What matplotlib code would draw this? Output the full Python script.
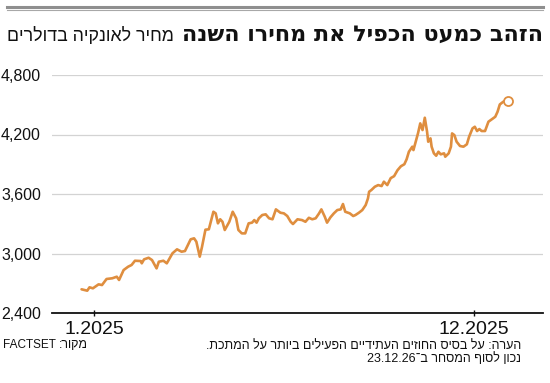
import re
import datetime as dt
import matplotlib
matplotlib.use("Agg")
import matplotlib.pyplot as plt
from matplotlib.lines import Line2D

# ---------------- data ----------------
# day offsets from 1 Jan 2025
days = [-11, -6, -4, -1, 4, 7, 11, 16, 20, 22, 26, 30, 33, 36, 41, 42, 44, 48, 51,
        55, 57, 61, 64, 69, 73, 77, 80, 85, 88, 90, 93, 95, 98, 101, 105, 107, 109,
        111, 113, 115, 119, 122, 125, 127, 130, 133, 136, 139, 141, 143, 145, 148,
        151, 154, 157, 160, 164, 167, 170, 173, 175, 179, 183, 186, 189, 192, 195,
        198, 200, 203, 205, 208, 211, 214, 217, 219, 221, 225, 228, 230, 233, 236,
        239, 241, 242, 244, 247, 250, 253, 255, 258, 261, 264, 267, 270, 273, 275,
        277, 280, 281, 283, 285, 287, 289, 291, 293, 294, 296, 297, 299, 301, 303,
        305, 308, 309, 312, 314, 315, 317, 319, 322, 325, 328, 330, 333, 335, 337,
        339, 341, 344, 347, 349, 351, 353, 355, 357, 360, 362, 364]
prices = [2639, 2625, 2659, 2649, 2689, 2682, 2743, 2750, 2766, 2733, 2833, 2867,
          2884, 2927, 2924, 2901, 2941, 2957, 2934, 2850, 2917, 2927, 2901, 3002,
          3042, 3018, 3025, 3143, 3153, 3119, 2968, 3068, 3240, 3244, 3421, 3405,
          3304, 3345, 3320, 3237, 3320, 3421, 3355, 3237, 3203, 3203, 3304, 3311,
          3337, 3311, 3355, 3388, 3395, 3355, 3345, 3445, 3411, 3405, 3378, 3320,
          3297, 3345, 3337, 3320, 3360, 3345, 3355, 3405, 3445, 3371, 3311, 3365,
          3405, 3438, 3445, 3499, 3421, 3405, 3378, 3388, 3411, 3438, 3489, 3556,
          3623, 3640, 3673, 3690, 3680, 3724, 3690, 3760, 3780, 3840, 3880, 3900,
          3950, 4026, 4077, 4043, 4127, 4211, 4312, 4245, 4369, 4228, 4127, 4161,
          4077, 4010, 3986, 4026, 4000, 4010, 3976, 4010, 4077, 4211, 4194, 4127,
          4084, 4077, 4101, 4178, 4262, 4278, 4235, 4255, 4235, 4235, 4329, 4345,
          4362, 4379, 4429, 4503, 4530, 4537, 4537]

yticks = [2400, 3000, 3600, 4200, 4800]
ytick_labels = ["2,400", "3,000", "3,600", "4,200", "4,800"]
xtick_dates = ["2025-01-01", "2025-12-01"]
xtick_labels = ["1.2025", "12.2025"]

title_bold = "הזהב כמעט הכפיל את מחירו השנה"
title_reg = "מחיר לאונקיה בדולרים"
note_1 = "הערה: על בסיס החוזים העתידיים הפעילים ביותר על המתכת."
note_2 = "נכון לסוף המסחר ב־23.12.26"
source_label = "מקור:"
source_name = "FACTSET"

# ---------------- helpers ----------------
def visual(s):
    """Simple RTL -> visual order (keeps Latin/digit runs LTR)."""
    r = s[::-1]
    return re.sub(r"[A-Za-z0-9][A-Za-z0-9.,]*[A-Za-z0-9]|[A-Za-z0-9]",
                  lambda m: m.group(0)[::-1], r)

base = dt.date(2025, 1, 1)
dates = [base + dt.timedelta(days=d) for d in days]

W, H = 550, 383
fig = plt.figure(figsize=(W / 100, H / 100), dpi=100)

NARROW = ["Liberation Sans Narrow", "Liberation Sans", "DejaVu Sans"]
HEB = ["Liberation Sans", "DejaVu Sans"]
HEB_BOLD = ["DejaVu Sans", "Liberation Sans"]

def fx(px):
    return px / W

def fy(py):
    return 1 - py / H

ax = fig.add_axes([fx(52), fy(313), (543 - 52) / W, (313 - 75) / H])

orange = "#DF8E3F"
ax.plot(dates, prices, color=orange, lw=1.9, solid_joinstyle="round",
        solid_capstyle="round", zorder=3)
ax.plot([dates[-1]], [prices[-1]], marker="o", ms=6.5, mfc="white",
        mec=orange, mew=1.3, zorder=4)

ax.set_ylim(2400, 4800)
ax.set_xlim(base + dt.timedelta(days=-37), base + dt.timedelta(days=395))

ax.set_yticks(yticks)
ax.set_yticklabels(ytick_labels, family=NARROW, fontsize=11.5, color="#111111")
ax.set_xticks([dt.date.fromisoformat(d) for d in xtick_dates])
ax.set_xticklabels(xtick_labels, family=NARROW, fontsize=14, color="#111111")

ax.tick_params(axis="y", length=0, pad=8)
ax.tick_params(axis="x", direction="inout", length=5, width=1.0, pad=3,
               color="#111111")

for s in ["top", "right", "left"]:
    ax.spines[s].set_visible(False)
ax.spines["bottom"].set_color("#111111")
ax.spines["bottom"].set_linewidth(1.3)
ax.spines["bottom"].set_zorder(5)

ax.grid(axis="y", color="#d3d3d3", lw=0.9)
ax.grid(axis="x", visible=False)
ax.set_axisbelow(True)

# top rules
fig.add_artist(Line2D([fx(7), fx(543)], [fy(6.7), fy(6.7)], color="#8f8f8f", lw=2.2))
fig.add_artist(Line2D([fx(7), fx(543)], [fy(9.5), fy(9.5)], color="#a8a8a8", lw=0.8))

# title
tb = fig.text(fx(543), fy(41), visual(title_bold), ha="right", va="baseline",
              fontsize=16, fontweight="bold", family=HEB_BOLD, color="#111111")
fig.canvas.draw()
bb = tb.get_window_extent(fig.canvas.get_renderer())
fig.text(bb.x0 / W - fx(8), fy(41), visual(title_reg), ha="right", va="baseline",
         fontsize=12.8, family=HEB, color="#111111")

# notes
fig.text(fx(521), fy(348.5), visual(note_1), ha="right", va="baseline",
         fontsize=9, family=HEB, color="#111111")
fig.text(fx(521), fy(361.5), visual(note_2), ha="right", va="baseline",
         fontsize=9, family=HEB, color="#111111")
ts = fig.text(fx(88), fy(348.5), visual(source_label), ha="right", va="baseline",
              fontsize=9, family=HEB, color="#111111")
fig.canvas.draw()
sb = ts.get_window_extent(fig.canvas.get_renderer())
fig.text(sb.x0 / W - fx(3), fy(348.5), source_name, ha="right", va="baseline",
         fontsize=8.5, family=NARROW, color="#111111")

fig.savefig("out.png", dpi=100)
